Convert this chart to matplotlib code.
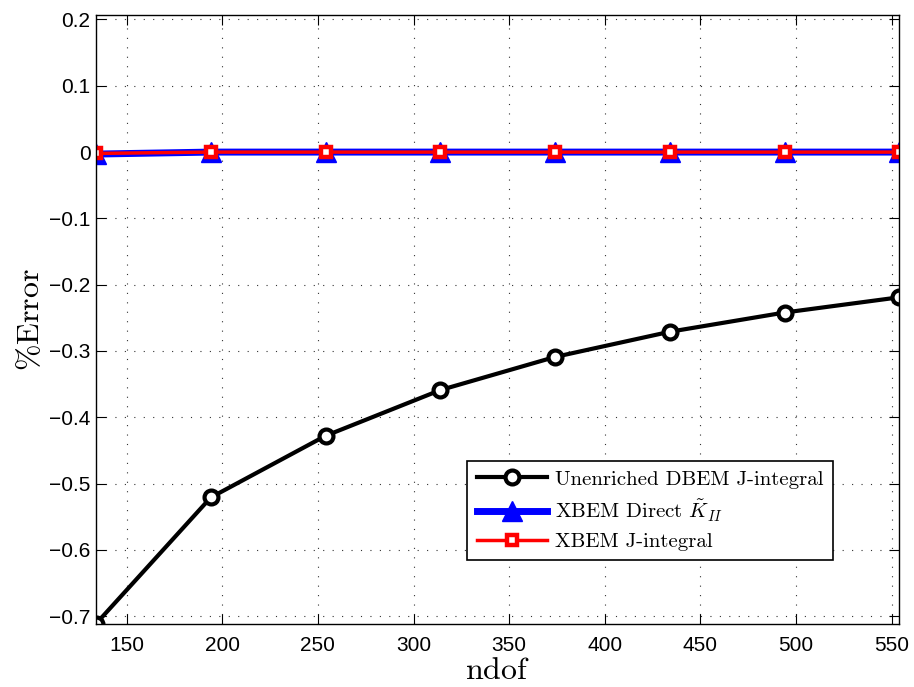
import numpy as np
from matplotlib import pyplot as plt

plt.rcParams['mathtext.fontset'] = 'cm'
plt.rcParams['font.family'] = ['Liberation Sans', 'DejaVu Sans']

ndof = [134, 194, 254, 314, 374, 434, 494, 554]
err_unenriched = [-0.7115, -0.521, -0.428, -0.359, -0.309, -0.271, -0.242, -0.219]
err_direct = [-0.003, 0.0, 0.0, 0.0, 0.0, 0.0, 0.0, 0.0]
err_jint = [-0.002, 0.0, 0.0, 0.0, 0.0, 0.0, 0.0, 0.0]

xticks = [150, 200, 250, 300, 350, 400, 450, 500, 550]
yticks = [-0.7, -0.6, -0.5, -0.4, -0.3, -0.2, -0.1, 0, 0.1, 0.2]
ytick_labels = ['\u22120.7', '\u22120.6', '\u22120.5', '\u22120.4', '\u22120.3',
                '\u22120.2', '\u22120.1', '0', '0.1', '0.2']

fig = plt.figure(figsize=(9.14, 6.87), dpi=100)
ax = fig.add_axes([0.105, 0.092, 0.879, 0.886])

ax.plot(ndof, err_unenriched, '-o', color='black', lw=3, ms=10,
        mfc='white', mec='black', mew=3, label='Unenriched DBEM J-integral')
ax.plot(ndof, err_direct, '-^', color='blue', lw=5, ms=15,
        mfc='blue', mec='blue', label=r'XBEM Direct $\tilde{K}_{II}$')
ax.plot(ndof, err_jint, '-s', color='red', lw=2.5, ms=7,
        mfc='white', mec='red', mew=3.2, label='XBEM J-integral')

ax.set_xlim(134, 554)
ax.set_ylim(-0.7115, 0.2066)
ax.set_xticks(xticks)
ax.set_yticks(yticks)
ax.set_yticklabels(ytick_labels)
ax.tick_params(direction='in', top=True, right=True, labelsize=15, length=7)
ax.tick_params(axis='x', pad=8.5)
ax.tick_params(axis='y', pad=4)
ax.grid(True, linestyle=(0, (1, 7.5)), color='#333333', linewidth=0.8)
for s in ax.spines.values():
    s.set_linewidth(1.0)

ax.set_xlabel(r'$\mathrm{ndof}$', fontsize=23, labelpad=1)
ax.set_ylabel(r'$\%\mathrm{Error}$', fontsize=23, labelpad=2)

leg = ax.legend(loc='upper left', bbox_to_anchor=(0.462, 0.268),
                borderaxespad=0,
                prop={'family': 'cmr10', 'size': 15}, fancybox=False,
                framealpha=1, edgecolor='black', handlelength=3.4,
                borderpad=0.45, labelspacing=0.42, handletextpad=0.35)
leg.get_frame().set_linewidth(1.2)

plt.savefig('out.png', dpi=100)
